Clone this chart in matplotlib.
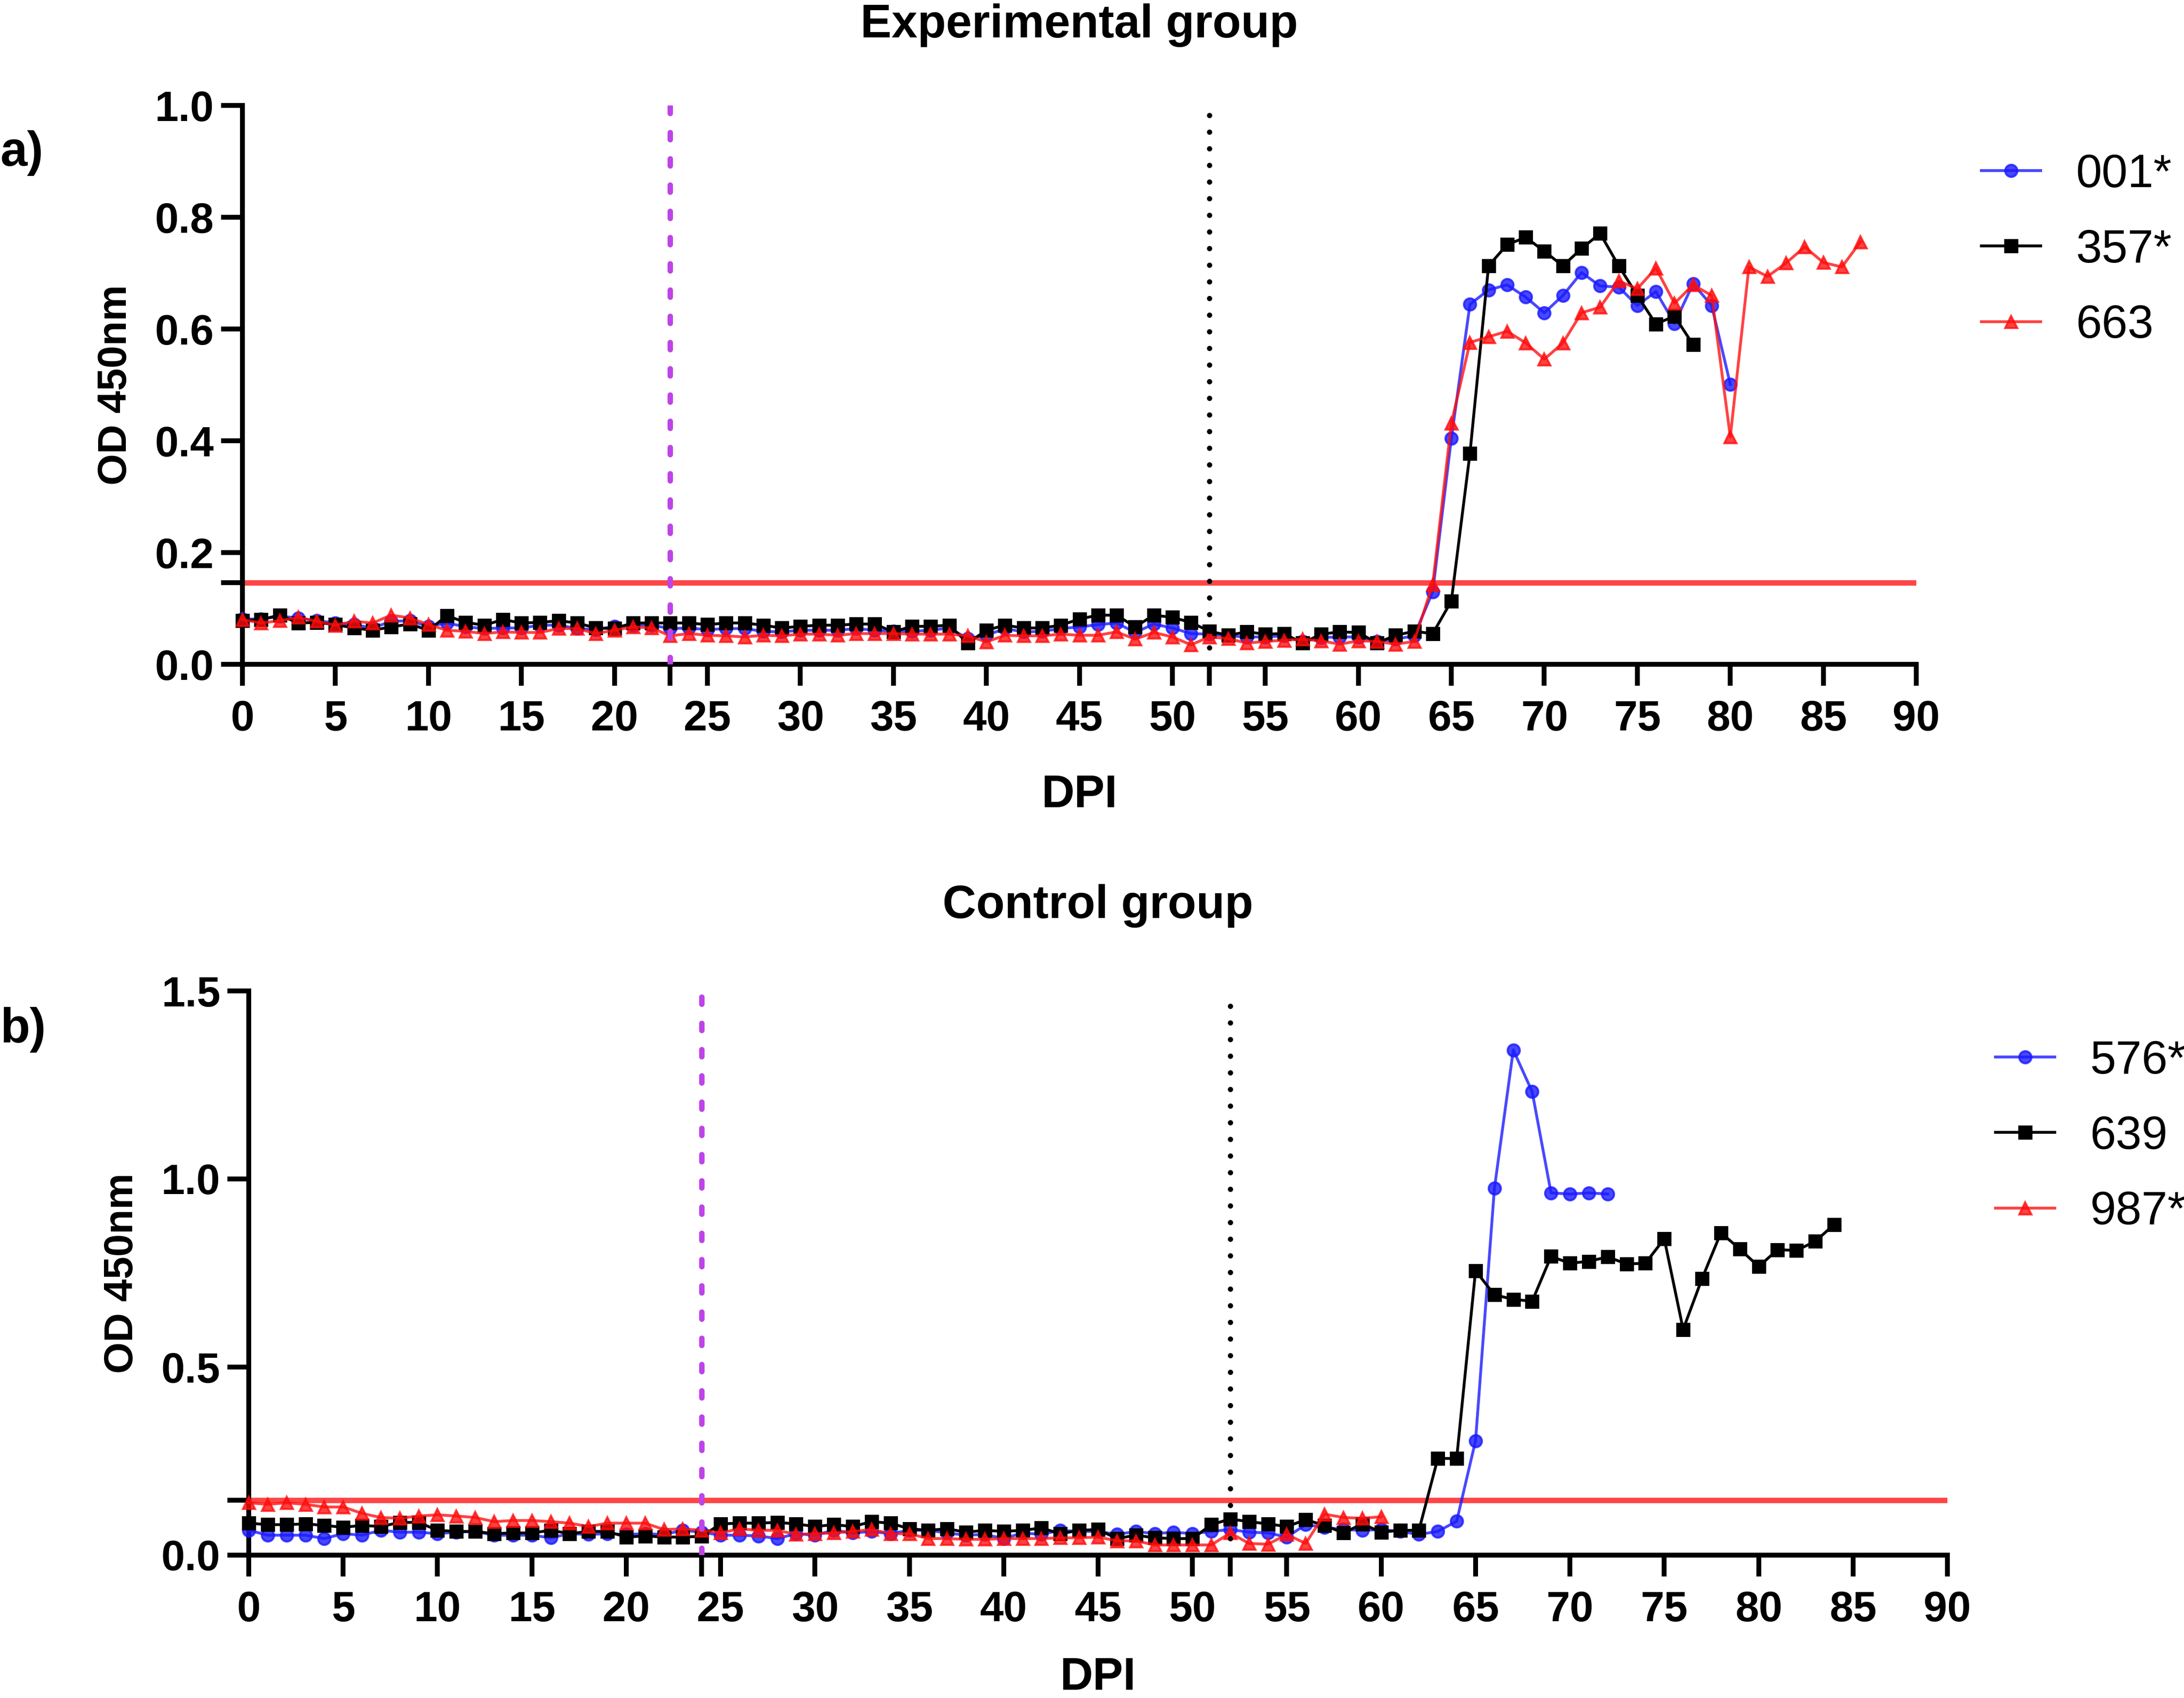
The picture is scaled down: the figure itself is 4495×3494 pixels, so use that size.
"""
OD 450nm over days post infection, experimental and control groups
"""

import numpy as np
import matplotlib.pyplot as plt

plt.rcParams['font.family'] = ['Liberation Sans', 'DejaVu Sans']

"""
Data read from the figure
"""

cutoff = 0.146

# panel a) experimental group
a_001 = [0.081, 0.081, 0.086, 0.083, 0.078, 0.074, 0.071, 0.065, 0.077, 0.078,
         0.068, 0.074, 0.067, 0.064, 0.065, 0.065, 0.070, 0.070, 0.064, 0.062,
         0.068, 0.070, 0.070, 0.064, 0.065, 0.062, 0.064, 0.064, 0.059, 0.058,
         0.061, 0.061, 0.061, 0.064, 0.061, 0.059, 0.059, 0.061, 0.065, 0.046,
         0.052, 0.064, 0.058, 0.059, 0.064, 0.067, 0.071, 0.074, 0.057, 0.072,
         0.065, 0.055, 0.054, 0.051, 0.049, 0.049, 0.051, 0.041, 0.048, 0.049,
         0.049, 0.041, 0.045, 0.051, 0.130, 0.404, 0.644, 0.670, 0.679, 0.657,
         0.629, 0.660, 0.701, 0.677, 0.675, 0.642, 0.667, 0.610, 0.681, 0.642,
         0.501]
a_357 = [0.078, 0.080, 0.088, 0.074, 0.075, 0.071, 0.065, 0.061, 0.067, 0.072,
         0.061, 0.087, 0.075, 0.070, 0.080, 0.074, 0.075, 0.078, 0.074, 0.065,
         0.064, 0.074, 0.074, 0.074, 0.074, 0.071, 0.074, 0.074, 0.070, 0.065,
         0.068, 0.070, 0.070, 0.072, 0.072, 0.058, 0.068, 0.068, 0.070, 0.038,
         0.061, 0.070, 0.065, 0.065, 0.070, 0.081, 0.088, 0.088, 0.067, 0.088,
         0.084, 0.075, 0.059, 0.052, 0.058, 0.054, 0.055, 0.038, 0.054, 0.058,
         0.057, 0.038, 0.052, 0.059, 0.055, 0.113, 0.377, 0.713, 0.751, 0.764,
         0.739, 0.713, 0.744, 0.771, 0.713, 0.660, 0.609, 0.623, 0.572]
a_663 = [0.080, 0.074, 0.078, 0.084, 0.077, 0.070, 0.077, 0.074, 0.088, 0.083,
         0.071, 0.061, 0.059, 0.055, 0.058, 0.057, 0.057, 0.064, 0.064, 0.055,
         0.061, 0.067, 0.065, 0.051, 0.055, 0.052, 0.051, 0.049, 0.052, 0.051,
         0.054, 0.054, 0.052, 0.055, 0.055, 0.055, 0.054, 0.054, 0.054, 0.051,
         0.040, 0.052, 0.051, 0.051, 0.054, 0.052, 0.052, 0.058, 0.045, 0.057,
         0.049, 0.035, 0.049, 0.046, 0.038, 0.041, 0.043, 0.045, 0.042, 0.036,
         0.042, 0.041, 0.036, 0.041, 0.143, 0.431, 0.576, 0.586, 0.596, 0.575,
         0.546, 0.575, 0.629, 0.639, 0.686, 0.672, 0.709, 0.646, 0.679, 0.660,
         0.407, 0.711, 0.694, 0.718, 0.747, 0.719, 0.711, 0.756]

# panel b) control group
b_576 = [0.066, 0.053, 0.053, 0.053, 0.044, 0.057, 0.053, 0.066, 0.061, 0.061,
         0.057, 0.061, 0.063, 0.053, 0.053, 0.053, 0.046, 0.057, 0.055, 0.057,
         0.055, 0.057, 0.055, 0.066, 0.061, 0.053, 0.053, 0.051, 0.044, 0.057,
         0.053, 0.066, 0.059, 0.063, 0.057, 0.066, 0.066, 0.059, 0.053, 0.055,
         0.044, 0.059, 0.055, 0.066, 0.063, 0.063, 0.055, 0.063, 0.057, 0.061,
         0.057, 0.063, 0.068, 0.061, 0.059, 0.048, 0.081, 0.074, 0.068, 0.066,
         0.068, 0.063, 0.055, 0.063, 0.090, 0.304, 0.975, 1.343, 1.232, 0.963,
         0.960, 0.963, 0.960]
b_639 = [0.085, 0.081, 0.081, 0.083, 0.079, 0.074, 0.079, 0.076, 0.087, 0.087,
         0.066, 0.063, 0.063, 0.057, 0.059, 0.059, 0.066, 0.057, 0.063, 0.063,
         0.048, 0.051, 0.048, 0.048, 0.050, 0.083, 0.085, 0.085, 0.087, 0.083,
         0.076, 0.081, 0.076, 0.089, 0.085, 0.070, 0.066, 0.070, 0.061, 0.066,
         0.063, 0.066, 0.072, 0.057, 0.066, 0.068, 0.044, 0.053, 0.046, 0.044,
         0.044, 0.081, 0.096, 0.089, 0.083, 0.076, 0.094, 0.079, 0.059, 0.083,
         0.061, 0.066, 0.066, 0.257, 0.257, 0.756, 0.692, 0.680, 0.675, 0.794,
         0.776, 0.781, 0.793, 0.774, 0.776, 0.841, 0.600, 0.735, 0.857, 0.814,
         0.767, 0.812, 0.810, 0.834, 0.879]
b_987 = [0.139, 0.135, 0.139, 0.135, 0.128, 0.128, 0.111, 0.100, 0.098, 0.104,
         0.107, 0.104, 0.100, 0.089, 0.092, 0.092, 0.089, 0.085, 0.076, 0.085,
         0.085, 0.085, 0.068, 0.070, 0.066, 0.059, 0.070, 0.066, 0.066, 0.055,
         0.057, 0.059, 0.063, 0.068, 0.057, 0.057, 0.044, 0.044, 0.042, 0.042,
         0.044, 0.044, 0.044, 0.046, 0.046, 0.048, 0.038, 0.038, 0.027, 0.027,
         0.027, 0.027, 0.059, 0.031, 0.029, 0.055, 0.031, 0.109, 0.100, 0.098,
         0.102]

x_ticks = list(range(0, 91, 5))
a_yticks = [0.0, 0.2, 0.4, 0.6, 0.8, 1.0]
b_yticks = [0.0, 0.5, 1.0, 1.5]
a_events = [23, 52]
b_events = [24, 52]

"""
Figure
"""

blue = (0.1, 0.1, 1.0, 0.8)
red = (1.0, 0.05, 0.05, 0.78)
magenta = '#BE44E8'

fig = plt.figure(figsize=(4495 / 300, 3494 / 300), dpi=300)
ax_a = fig.add_axes([499 / 4495, 1 - 1367 / 3494, (3944 - 499) / 4495, (1367 - 217) / 3494])
ax_b = fig.add_axes([512 / 4495, 1 - 3200 / 3494, (4008 - 512) / 4495, (3200 - 2039) / 3494])


def draw_panel(ax, series, labels, yticks, ymax, events, leg_xy, xlabpad):
    styles = [dict(color=blue, marker='o'),
              dict(color='black', marker='s'),
              dict(color=red, marker='^')]
    ax.axhline(cutoff, color=(1, 0.15, 0.15, 0.85), lw=2.7, zorder=1)
    for vals, lab, st in zip(series, labels, styles):
        days = np.arange(len(vals))
        ax.plot(days, vals, lw=1.4, ms=6, label=lab, clip_on=False, zorder=3, **st)
    ax.axvline(events[0], color=magenta, lw=2.7, ls=(0, (1.3, 3.5)),
               dash_capstyle='round', zorder=5)
    ax.axvline(events[1], color='black', lw=2.6, ls=(0, (0.01, 3.15)),
               dash_capstyle='round', zorder=5)

    ax.set_xlim(0, 90)
    ax.set_ylim(0, ymax)
    ax.set_xticks(x_ticks)
    ax.set_xticks(events, minor=True)
    ax.set_yticks(yticks)
    ax.set_yticks([cutoff], minor=True)
    ax.set_yticklabels(['%.1f' % v for v in yticks])
    for side in ['top', 'right']:
        ax.spines[side].set_visible(False)
    for side in ['left', 'bottom']:
        ax.spines[side].set_linewidth(2.4)
    ax.tick_params(which='both', length=10.5, width=2.4, direction='out')
    ax.tick_params(axis='x', labelsize=21, pad=7)
    ax.tick_params(axis='y', labelsize=21, pad=3.5)
    for t in ax.get_xticklabels() + ax.get_yticklabels():
        t.set_fontweight('bold')
    ax.set_xlabel('DPI', fontsize=22.5, fontweight='bold', labelpad=xlabpad)
    ax.set_ylabel('OD 450nm', fontsize=20, fontweight='bold', labelpad=10)

    ax.legend(loc='center left', bbox_to_anchor=leg_xy, bbox_transform=fig.transFigure,
              frameon=False, fontsize=23, numpoints=1, handlelength=1.27,
              handletextpad=0.76, labelspacing=0.68, borderpad=0, borderaxespad=0)


draw_panel(ax_a, [a_001, a_357, a_663], ['001*', '357*', '663'],
           a_yticks, 1.0, a_events, (4078 / 4495, 1 - 515 / 3494), 17)
draw_panel(ax_b, [b_576, b_639, b_987], ['576*', '639', '987*'],
           b_yticks, 1.5, b_events, (4107 / 4495, 1 - 2339 / 3494), 13)

fig.text(2221 / 4495, 1 - 77 / 3494, 'Experimental group', ha='center', va='baseline',
         fontsize=23, fontweight='bold')
fig.text(2260 / 4495, 1 - 1889 / 3494, 'Control group', ha='center', va='baseline',
         fontsize=23, fontweight='bold')
fig.text(0.0, 1 - 341 / 3494, 'a)', ha='left', va='baseline', fontsize=24, fontweight='bold')
fig.text(0.0, 1 - 2145 / 3494, 'b)', ha='left', va='baseline', fontsize=24, fontweight='bold')

fig.savefig('out.png', dpi=300)
